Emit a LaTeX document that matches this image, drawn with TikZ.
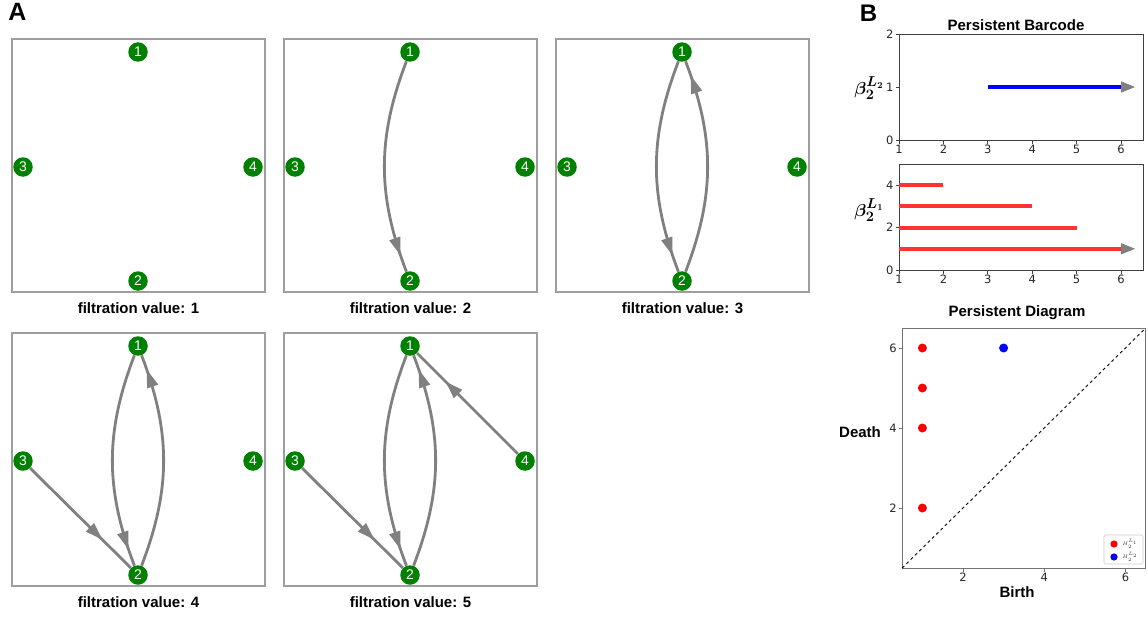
\documentclass[tikz,border=0pt]{standalone}
\usepackage{fontspec}
\setmainfont{Liberation Sans}
\newfontfamily\tickfont{DejaVu Sans}
\usepackage{bm}
\usetikzlibrary{arrows.meta,decorations.markings}

\definecolor{nodegreen}{RGB}{0,128,0}
\definecolor{barred}{RGB}{255,51,51}

\tikzset{
  vertex/.style={circle, fill=nodegreen, text=white, minimum size=19.5pt, inner sep=0pt,
    font=\fontsize{14}{14}\selectfont},
  boxframe/.style={draw=black!38, line width=1.2pt},
  capt/.style={font=\fontsize{15}{18}\selectfont\bfseries, inner sep=0pt},
  panlabel/.style={font=\fontsize{25}{25}\selectfont\bfseries, inner sep=0pt},
  link/.style={color=gray, line width=2.8pt, postaction={decorate},
    decoration={markings, mark=at position #1 with {\arrow{Triangle[length=18pt,width=11pt]}}}},
  axframe/.style={draw=black!75, line width=0.9pt},
  tick/.style={font=\tickfont\fontsize{11.5}{11.5}\selectfont, text=black!85, inner sep=1.5pt},
  redbar/.style={barred, line width=4pt},
  headtip/.style={-{Triangle[length=15pt,width=10pt,color=gray]}},
  betalab/.style={font=\fontsize{19}{19}\selectfont, inner sep=0pt}
}

\begin{document}
\begin{tikzpicture}[x=1pt, y=-1pt]
\useasboundingbox (0,0) rectangle (1148,618);
% Panel letters
\node[panlabel] (labA) at (17.5,12) {A};
\node[panlabel, font=\fontsize{24}{24}\selectfont\bfseries] (labB) at (868.5,13.5) {B};
% Filtration graphs
\foreach \k/\bx/\by in {1/12/39, 2/284/39, 3/556/39, 4/12/333, 5/284/333}{
  \draw[boxframe] (\bx,\by) rectangle ++(253,253);
  \node[vertex] (v\k-1) at (\bx+126,\by+13) {1};
  \node[vertex] (v\k-2) at (\bx+126,\by+242) {2};
  \node[vertex] (v\k-3) at (\bx+11,\by+128) {3};
  \node[vertex] (v\k-4) at (\bx+241,\by+128) {4};
  \node[capt] (cap\k) at (\bx+126.5,\by+269) {filtration value: \k};
}
% value 2
\draw[link=0.92] (v2-1) to[bend right=21] (v2-2);
% value 3
\draw[link=0.92] (v3-1) to[bend right=21] (v3-2);
\draw[link=0.93] (v3-2) to[bend right=21] (v3-1);
% value 4
\draw[link=0.92] (v4-1) to[bend right=21] (v4-2);
\draw[link=0.93] (v4-2) to[bend right=21] (v4-1);
\draw[link=0.72] (v4-3) -- (v4-2);
% value 5
\draw[link=0.92] (v5-1) to[bend right=21] (v5-2);
\draw[link=0.93] (v5-2) to[bend right=21] (v5-1);
\draw[link=0.72] (v5-3) -- (v5-2);
\draw[link=0.72] (v5-4) -- (v5-1);

% Barcode, L2
\node[capt] (ttlbar) at (1016,25) {Persistent Barcode};
\node[betalab] (betaB) at (869,88) {$\bm{\beta_2^{L_2}}$};
\begin{scope}[xshift=854.6pt, yshift=-140pt, x=44.4pt, y=53pt]
  \draw[axframe] (1,0) rectangle (6.5,2);
  \foreach \t in {1,...,6}
    \draw[axframe] (\t,0) -- ++(0pt,-3.5pt) node[tick, below] (bxa\t) {\t};
  \foreach \t in {0,1,2}
    \draw[axframe] (1,\t) -- ++(-3.5pt,0pt) node[tick, left] (bya\t) {\t};
  \draw[blue, line width=4pt, headtip] (3,1) -- ([xshift=15pt]6,1);
\end{scope}

% Barcode, L1
\node[betalab] (betaA) at (869,210) {$\bm{\beta_2^{L_1}}$};
\begin{scope}[xshift=854.6pt, yshift=-270pt, x=44.4pt, y=21.2pt]
  \draw[axframe] (1,0) rectangle (6.5,5);
  \foreach \t in {1,...,6}
    \draw[axframe] (\t,0) -- ++(0pt,-3.5pt) node[tick, below] (bxb\t) {\t};
  \foreach \t in {0,2,4}
    \draw[axframe] (1,\t) -- ++(-3.5pt,0pt) node[tick, left] (byb\t) {\t};
  \draw[redbar] (1,4) -- (2,4);
  \draw[redbar] (1,3) -- (4,3);
  \draw[redbar] (1,2) -- (5,2);
  \draw[redbar, headtip] (1,1) -- ([xshift=15pt]6,1);
\end{scope}

% Persistence diagram
\node[capt] (ttldia) at (1017,313) {Persistent Diagram};
\node[capt] (death) at (860,432) {Death};
\node[capt] (birth) at (1017,592) {Birth};
\begin{scope}[xshift=881.8pt, yshift=-588pt, x=40.6pt, y=40pt]
  \draw[axframe, draw=black!55] (0.5,0.5) rectangle (6.5,6.5);
  \draw[dashed, line width=0.9pt] (0.5,0.5) -- (6.5,6.5);
  \foreach \t in {2,4,6}
    \draw[axframe, draw=black!55] (\t,0.5) -- ++(0pt,-3.5pt) node[tick, below] (dx\t) {\t};
  \foreach \t in {2,4,6}
    \draw[axframe, draw=black!55] (0.5,\t) -- ++(-3.5pt,0pt) node[tick, left] (dy\t) {\t};
  \foreach \d in {6,5,4,2}
    \fill[red] (1,\d) circle[radius=4.5pt];
  \fill[blue] (3,6) circle[radius=4.5pt];
\end{scope}
% Legend
\draw[draw=black!20, fill=white, rounded corners=1.5pt, line width=0.6pt] (1104,535) rectangle (1143,564);
\fill[red] (1114,544) circle[radius=3.6pt];
\fill[blue] (1114,557) circle[radius=3.6pt];
\node[font=\fontsize{5.5}{5.5}\selectfont, text=black!80] (legA) at (1130,544) {$H_2^{L_1}$};
\node[font=\fontsize{5.5}{5.5}\selectfont, text=black!80] (legB) at (1130,557) {$H_2^{L_2}$};
\end{tikzpicture}
\end{document}
